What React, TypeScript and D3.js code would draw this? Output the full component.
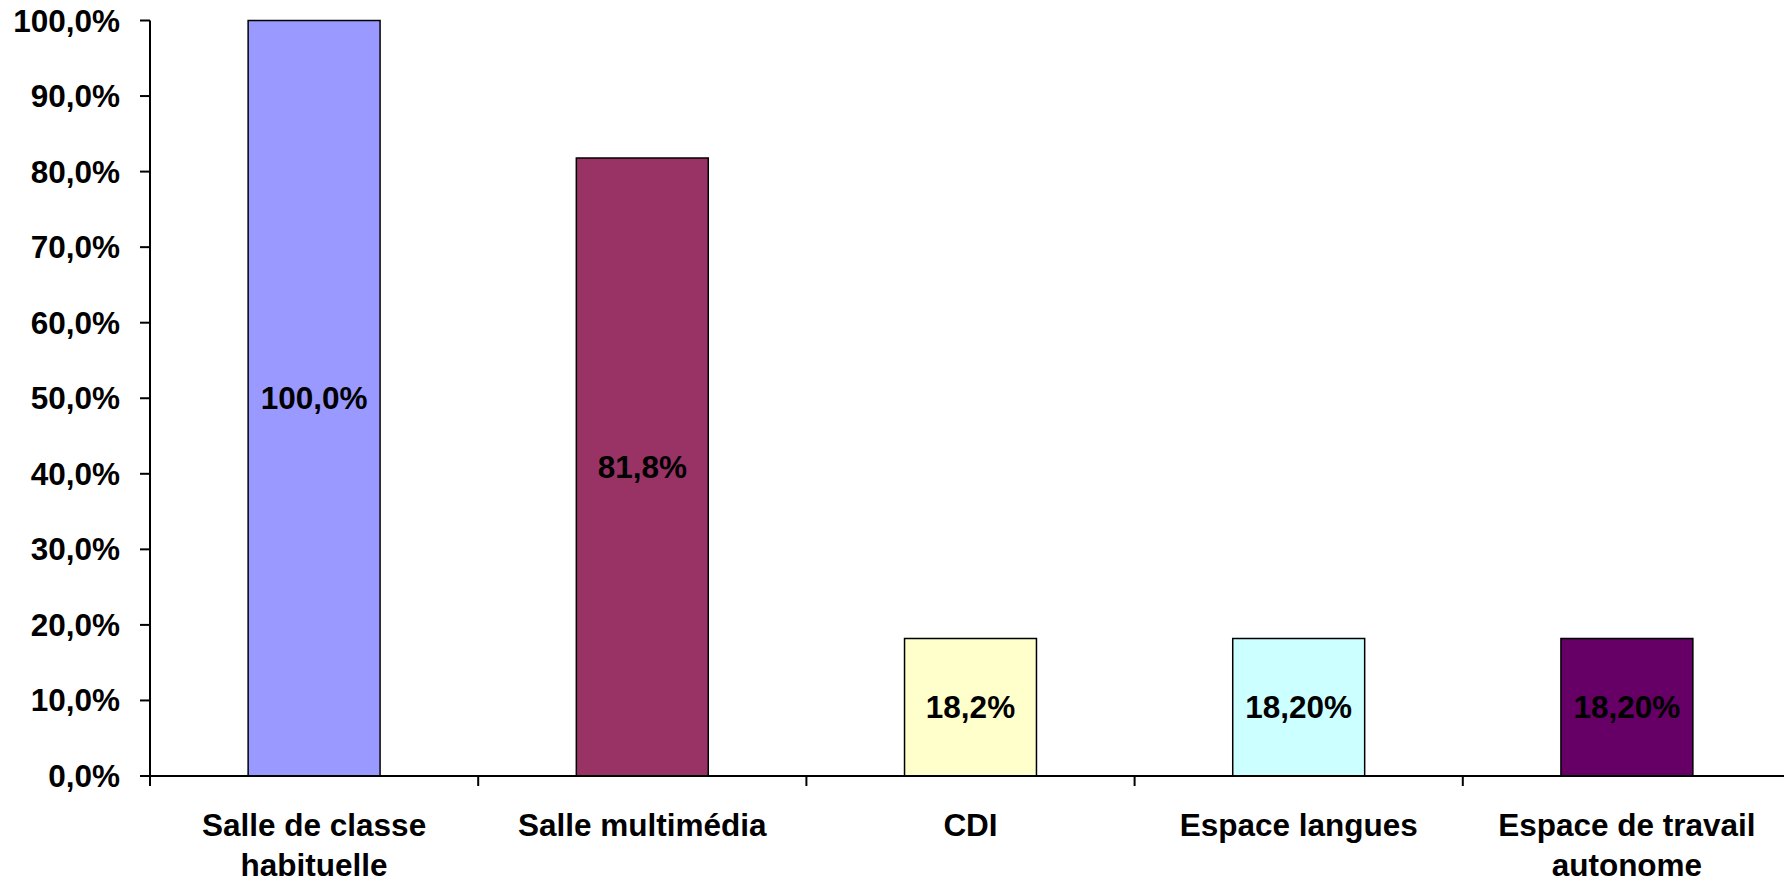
import React from "react";
import * as d3 from "d3";

const categories: string[][] = [
  ["Salle de classe", "habituelle"],
  ["Salle multimédia"],
  ["CDI"],
  ["Espace langues"],
  ["Espace de travail", "autonome"],
];
const values: number[] = [1.0, 0.818, 0.182, 0.182, 0.182];
const valueLabels: string[] = ["100,0%", "81,8%", "18,2%", "18,20%", "18,20%"];
const barColors: string[] = ["#9999FF", "#993366", "#FFFFCC", "#CCFFFF", "#660066"];
const yTicks: number[] = [0, 0.1, 0.2, 0.3, 0.4, 0.5, 0.6, 0.7, 0.8, 0.9, 1.0];

const W = 1784;
const H = 881;
const FONT = "'Liberation Sans', Arial, sans-serif";

export default function App() {
  const x0 = 150;
  const x1 = 1791;
  const yTop = 20.5;
  const yBot = 776;
  const ids = categories.map((_, i) => String(i));
  const x = d3.scaleBand<string>().domain(ids).range([x0, x1]).paddingInner(0).paddingOuter(0);
  const y = d3.scaleLinear().domain([0, 1]).range([yBot, yTop]);
  const bw = x.bandwidth() * 0.402;
  const fmt = (v: number) => d3.format(".1f")(v * 100).replace(".", ",") + "%";

  return (
    <svg
      width={W}
      height={H}
      style={{ position: "absolute", left: 0, top: 0, background: "#fff" }}
      fontFamily={FONT}
      fontWeight="bold"
    >
      {values.map((v, i) => {
        const cx = (x(String(i)) as number) + x.bandwidth() / 2;
        return (
          <g key={i}>
            <rect
              x={cx - bw / 2}
              y={y(v)}
              width={bw}
              height={y(0) - y(v)}
              fill={barColors[i]}
              stroke="#000"
              strokeWidth={1.5}
            />
            <text
              x={cx}
              y={(y(v) + y(0)) / 2}
              textAnchor="middle"
              dominantBaseline="central"
              fontSize={31.5}
              fill="#000"
            >
              {valueLabels[i]}
            </text>
          </g>
        );
      })}
      <line x1={x0} x2={x0} y1={yTop} y2={yBot} stroke="#000" strokeWidth={2} />
      {yTicks.map((t) => (
        <g key={t}>
          <line x1={x0 - 10} x2={x0} y1={y(t)} y2={y(t)} stroke="#000" strokeWidth={2} />
          <text
            x={x0 - 30}
            y={y(t)}
            textAnchor="end"
            dominantBaseline="central"
            fontSize={31.5}
            fill="#000"
          >
            {fmt(t)}
          </text>
        </g>
      ))}
      <line x1={x0 - 10} x2={x1} y1={yBot} y2={yBot} stroke="#000" strokeWidth={2} />
      {ids.map((id) => (
        <line
          key={id}
          x1={x(id) as number}
          x2={x(id) as number}
          y1={yBot}
          y2={yBot + 10}
          stroke="#000"
          strokeWidth={2}
        />
      ))}
      {categories.map((lines, i) => {
        const cx = (x(String(i)) as number) + x.bandwidth() / 2;
        return (
          <text key={i} x={cx} textAnchor="middle" fontSize={31.5} fill="#000">
            {lines.map((ln, j) => (
              <tspan key={j} x={cx} y={836 + j * 40}>
                {ln}
              </tspan>
            ))}
          </text>
        );
      })}
    </svg>
  );
}
